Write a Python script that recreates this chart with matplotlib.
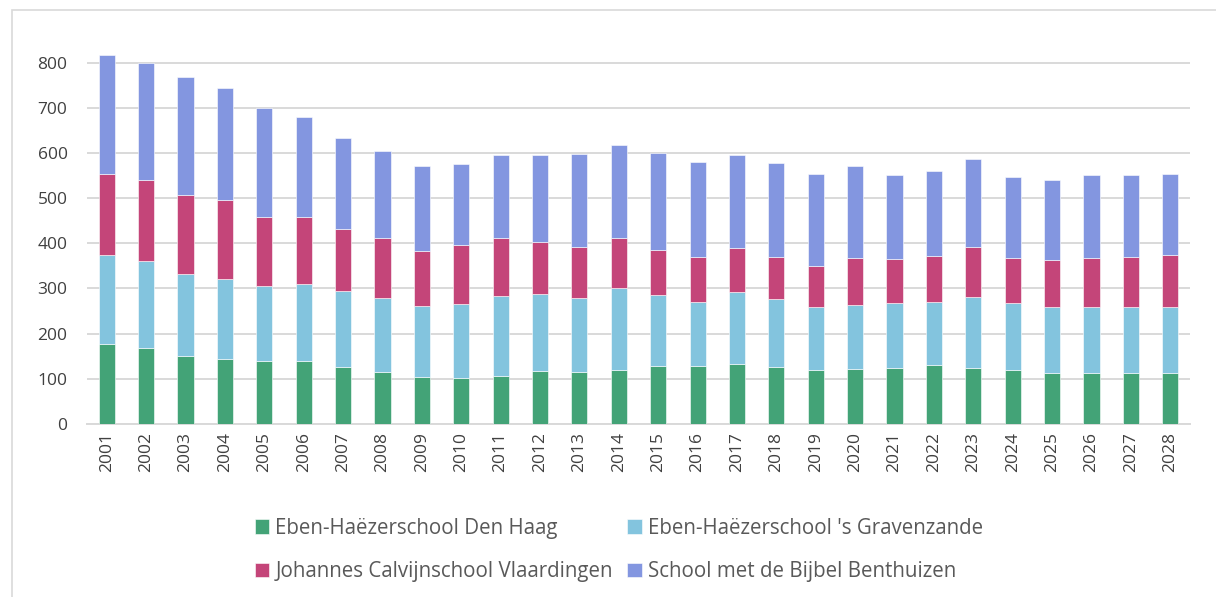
import matplotlib
matplotlib.use("Agg")
import matplotlib.pyplot as plt
from matplotlib.patches import Rectangle
import numpy as np

years = [str(y) for y in range(2001, 2029)]
# cumulative tops
top_den_haag = [177, 168, 151, 143, 140, 140, 127, 114, 104, 101, 106, 118, 115, 119,
                128, 128, 132, 126, 119, 121, 125, 131, 124, 119, 112, 112, 112, 112]
top_gravenzande = [374, 361, 331, 322, 306, 311, 295, 279, 262, 266, 284, 287, 280, 301,
                   285, 271, 292, 277, 258, 263, 267, 271, 281, 268, 258, 259, 258, 258]
top_vlaardingen = [554, 541, 508, 495, 459, 459, 432, 412, 384, 396, 412, 403, 392, 412,
                   385, 370, 390, 370, 350, 367, 365, 372, 392, 368, 362, 368, 369, 373]
top_benthuizen = [816, 798, 768, 743, 700, 680, 632, 604, 570, 575, 595, 596, 597, 618,
                  599, 581, 595, 578, 553, 572, 552, 561, 587, 547, 541, 552, 551, 553]

den_haag = np.array(top_den_haag)
gravenzande = np.array(top_gravenzande) - np.array(top_den_haag)
vlaardingen = np.array(top_vlaardingen) - np.array(top_gravenzande)
benthuizen = np.array(top_benthuizen) - np.array(top_vlaardingen)

labels = ["Eben-Haëzerschool Den Haag", "Eben-Haëzerschool 's Gravenzande",
          "Johannes Calvijnschool Vlaardingen", "School met de Bijbel Benthuizen"]
colors = ["#43A377", "#83C4DE", "#C44579", "#8396E0"]

plt.rcParams['font.family'] = ['Open Sans', 'DejaVu Sans']

fig = plt.figure(figsize=(12.16, 5.97), dpi=100)
fig.patches.append(Rectangle((12/1216, -0.1), 1.2, (597-10)/597 + 0.1,
                             transform=fig.transFigure, fill=False,
                             edgecolor="#D9D9D9", lw=1.2, zorder=0))
ax = fig.add_axes([87/1216, 1-424/597, (1190-87)/1216, (424-40)/597])

x = np.arange(len(years))
bottom = np.zeros(len(years))
series = [den_haag, gravenzande, vlaardingen, benthuizen]
handles = []
for s, c, lab in zip(series, colors, labels):
    h = ax.bar(x, s, width=0.41, bottom=bottom, color=c, label=lab,
               edgecolor="white", linewidth=0.4, zorder=3)
    handles.append(h)
    bottom = bottom + s

ax.set_xlim(-0.5, len(years) - 0.5)
ax.set_ylim(0, 850)
ax.set_yticks(range(0, 801, 100))
ax.set_xticks(x)
ax.set_xticklabels(years, rotation=90, fontsize=12.5, color="#404040")
ax.tick_params(axis='y', labelsize=12.5, labelcolor="#404040", length=0, pad=14)
ax.tick_params(axis='x', length=0, pad=6)
ax.grid(axis='y', color="#D9D9D9", linewidth=1.4, zorder=0)
for sp in ["top", "right", "left"]:
    ax.spines[sp].set_visible(False)
ax.spines["bottom"].set_color("#D9D9D9")
ax.spines["bottom"].set_linewidth(1.4)

order = [0, 2, 1, 3]
leg = fig.legend([handles[i] for i in order], [labels[i] for i in order],
                 loc="center", bbox_to_anchor=(619/1216, 1-550/597), ncol=2,
                 frameon=False, handlelength=0.7, handleheight=0.7,
                 handletextpad=0.3, columnspacing=0.7, labelspacing=1.1,
                 prop={'family': ['Open Sans', 'DejaVu Sans'], 'size': 14.8})
for t in leg.get_texts():
    t.set_color("#595959")

fig.savefig("out.png", dpi=100)
